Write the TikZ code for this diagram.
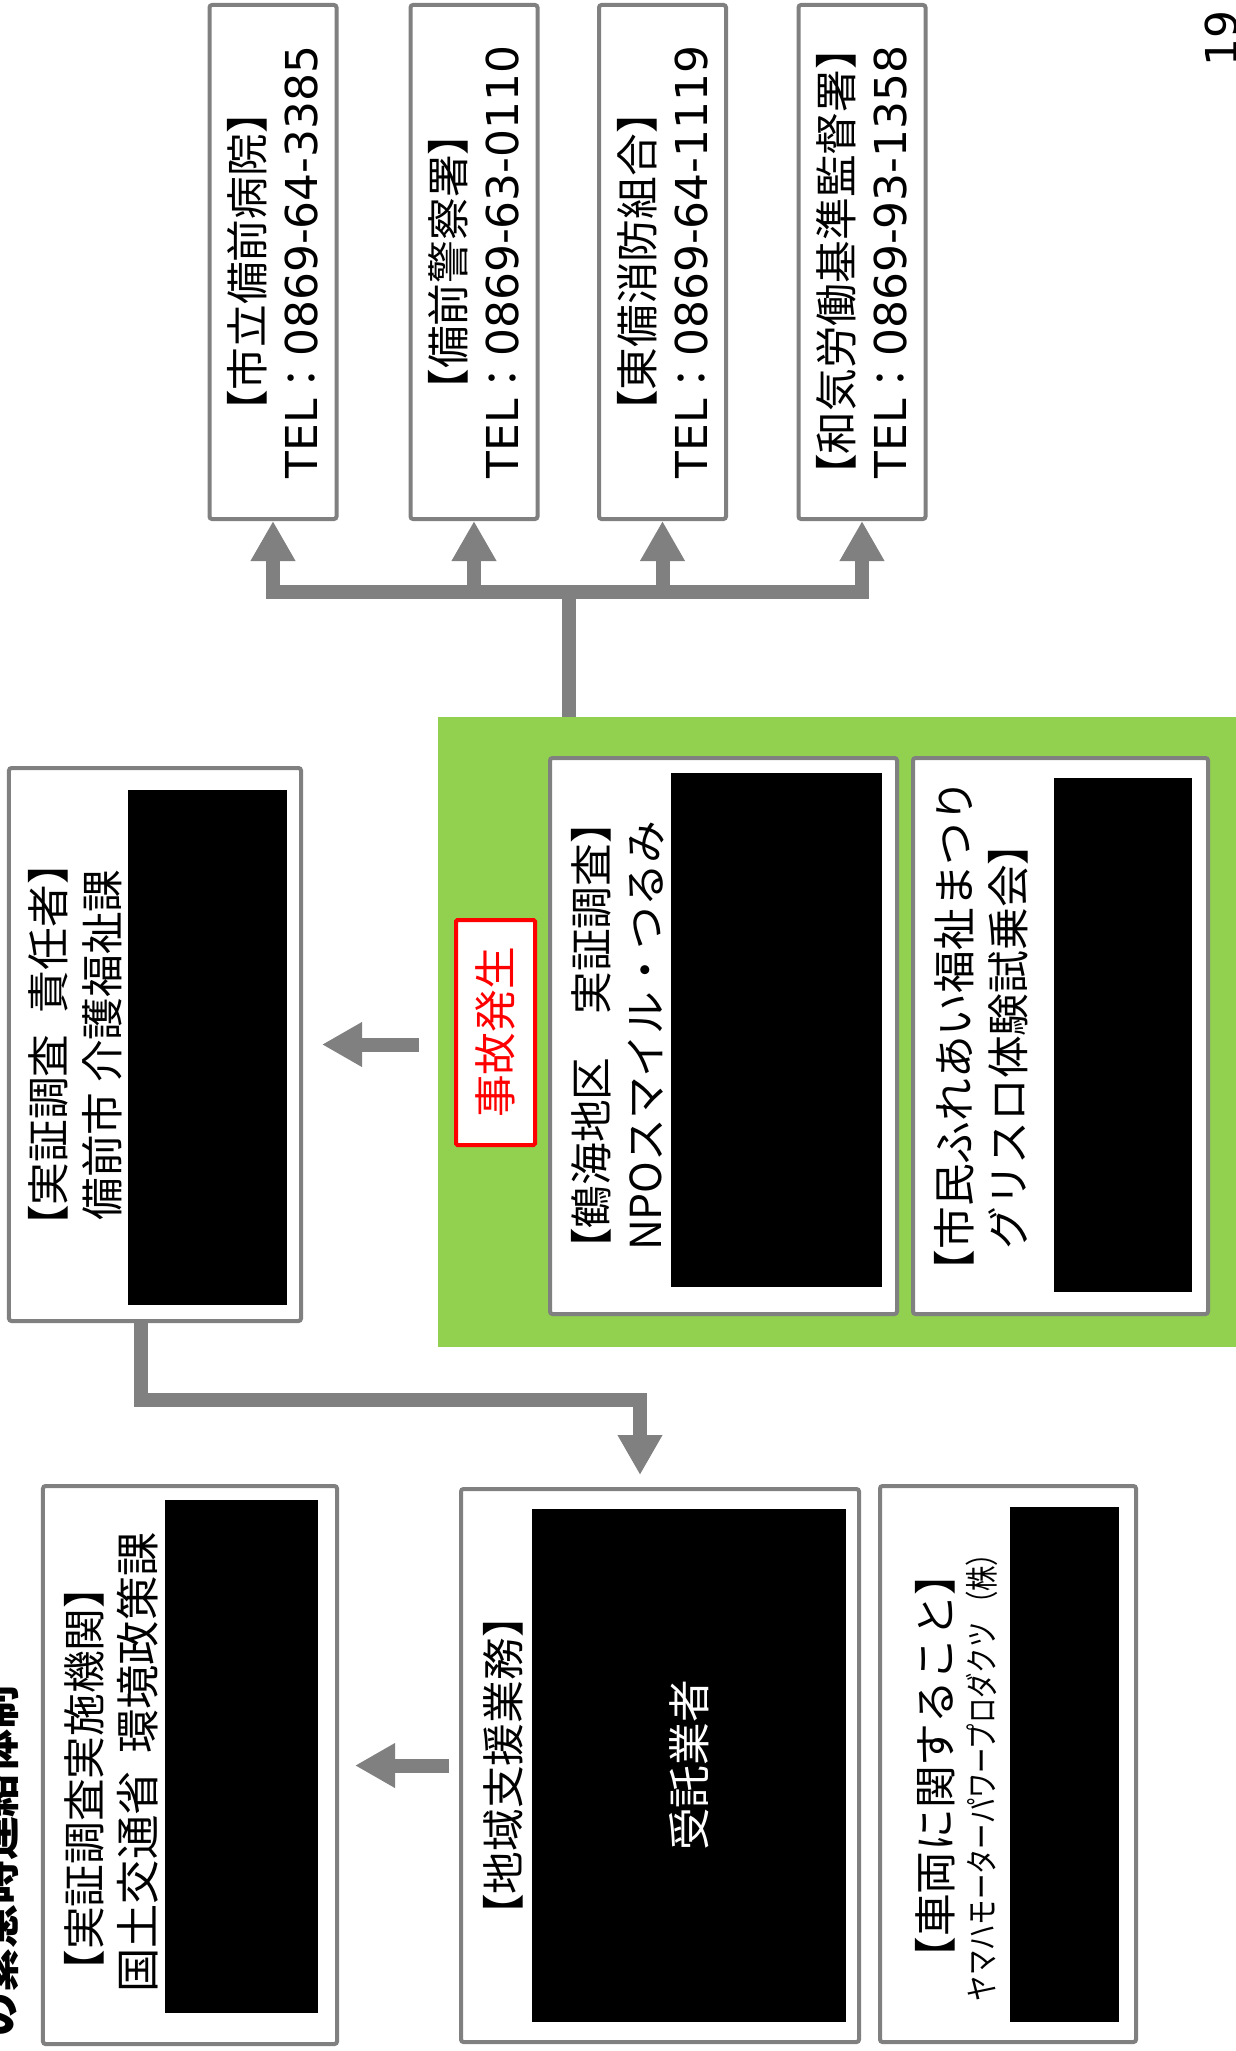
\documentclass[tikz,border=0pt]{standalone}
\usepackage{fontspec}
\setmainfont{Noto Sans CJK JP}
\newfontfamily\latinfont{DejaVu Sans}
\newfontfamily\narrowfont[FakeStretch=0.76]{Noto Sans CJK JP}
\usetikzlibrary{arrows.meta}
\definecolor{linegray}{HTML}{808080}
\definecolor{accgreen}{HTML}{92D050}
\newcommand{\telno}[1]{{\fontsize{25}{30.7}\selectfont\latinfont TEL}：{\fontsize{25}{30.7}\selectfont\latinfont #1}}

\begin{document}
\begin{tikzpicture}[x=0.2mm, y=-0.2mm,
    every node/.style={inner sep=0pt, align=center, font=\fontsize{24.3}{30.7}\selectfont},
    panel/.style={draw=linegray, line width=0.8mm, rounded corners=0.5mm, fill=white},
    blot/.style={fill=black},
    turned/.style={rotate=90},
    conn/.style={draw=linegray, line width=2.8mm, -{Triangle[length=8mm, width=8.4mm]}}]
    \useasboundingbox (0,0) rectangle (1236,2051);

    \node[panel, turned, minimum width=102.8mm, minimum height=25.4mm] (hosp) at (273,262) {【市立備前病院】\\\telno{0869-64-3385}};
    \node[panel, turned, minimum width=102.8mm, minimum height=25.4mm] (police) at (474,262) {【備前警察署】\\\telno{0869-63-0110}};
    \node[panel, turned, minimum width=102.8mm, minimum height=25.4mm] (fire) at (662.5,262) {【東備消防組合】\\\telno{0869-64-1119}};
    \node[panel, turned, minimum width=102.8mm, minimum height=25.4mm] (labour) at (862,262) {【和気労働基準監督署】\\\telno{0869-93-1358}};

    \node[fill=accgreen, minimum width=160.4mm, minimum height=126mm] (grp) at (839,1032) {};
    \node[turned, draw=red, line width=0.8mm, rounded corners=0.3mm, fill=white, text=red, minimum width=45mm, minimum height=15.8mm] (accident) at (495.5,1032.5) {事故発生};
    \node[panel, minimum width=69.4mm, minimum height=111.2mm] (npo) at (723.5,1036) {};
    \node[turned] (npotxt) at (618,1036) {【鶴海地区　実証調査】\\NPOスマイル・つるみ};
    \node[blot, minimum width=42.2mm, minimum height=102.8mm] (npoblk) at (776.5,1030) {};
    \node[panel, minimum width=59mm, minimum height=111.2mm] (civic) at (1060.5,1036) {};
    \node[turned] (civictxt) at (981,1036) {【市民ふれあい福祉まつり\\グリスロ体験試乗会】};
    \node[blot, minimum width=27.6mm, minimum height=102.8mm] (civicblk) at (1123,1035) {};

    \node[panel, minimum width=58.4mm, minimum height=110.6mm] (lead) at (155,1044.5) {};
    \node[turned] (leadtxt) at (75,1045) {【実証調査\hspace{0.5em}責任者】\\備前市 介護福祉課};
    \node[blot, minimum width=31.8mm, minimum height=103mm] (leadblk) at (207.5,1047.5) {};

    \node[panel, minimum width=58.8mm, minimum height=111.6mm] (gov) at (190,1765) {};
    \node[turned, anchor=west, align=left] (govtxt) at (111,1993) {【実証調査実施機関】\\{\fontsize{25.2}{30.7}\selectfont 国土交通省\hspace{0.4em}環境政策課}};
    \node[blot, minimum width=30.6mm, minimum height=102.6mm] (govblk) at (241.5,1756.5) {};

    \node[panel, minimum width=79.6mm, minimum height=110.6mm] (local) at (660,1765.5) {};
    \node[turned] (localtxt) at (503,1766) {【地域支援業務】};
    \node[blot, turned, text=white, minimum width=102.6mm, minimum height=62.8mm] (agent) at (689,1765.5) {受託業者};

    \node[panel, minimum width=51.2mm, minimum height=111.2mm] (car) at (1008,1764) {};
    \node[turned] (cartxt) at (935,1766) {【車両に関すること】};
    \node[turned, font=\fontsize{19}{24}\selectfont\narrowfont] (maker) at (982,1771) {ヤマハモーターパワープロダクツ （株）};
    \node[blot, minimum width=21.8mm, minimum height=103mm] (carblk) at (1064.5,1764.5) {};

    \node[turned, anchor=base west, font=\fontsize{25}{30}\selectfont\bfseries] (title) at (14,2037) {の緊急時連絡体制};
    \node[turned, anchor=base west, font=\fontsize{25}{30}\selectfont\latinfont] (pagenum) at (1237,67) {19};

    \coordinate (hub) at (569,592);
    \coordinate (bend) at (640,1400);
    \draw[conn, -] (grp.north -| hub) -- (hub);
    \foreach \t in {hosp,police,fire,labour}
        \draw[conn] (hub) -| (\t.west);
    \draw[conn, shorten <=3.8mm, shorten >=3.8mm] (grp.west |- lead.east) -- (lead.east);
    \draw[conn, shorten >=2.4mm] ([xshift=-2.8mm]lead.south) |- (bend) -- (bend |- local.north);
    \draw[conn, shorten <=2mm, shorten >=3.2mm] (local.west) -- (gov.east |- local.west);
\end{tikzpicture}
\end{document}
